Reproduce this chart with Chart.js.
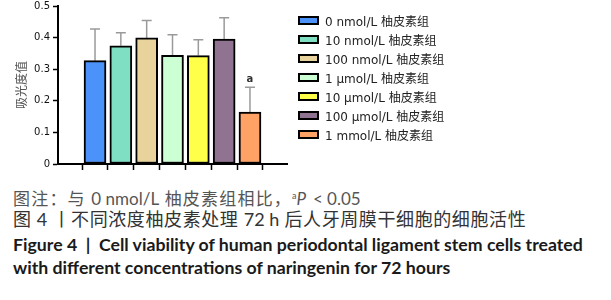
<!DOCTYPE html>
<html lang="zh">
<head>
<meta charset="UTF-8">
<title>柚皮素 细胞活性</title>
<style>
  body { margin: 0; background: #fff; }
  #wrap { position: relative; width: 611px; height: 300px; overflow: hidden; }
  #box { position: absolute; left: 0; top: -3px; width: 611px; height: 176px; }
  #legend { position: absolute; left: 298px; top: 11px; margin: 0; padding: 0; list-style: none;
            font: 12px "DejaVu Sans", "Noto Sans CJK SC", sans-serif; color: #222; }
  #legend li { height: 19px; display: flex; align-items: center; white-space: nowrap; }
  #legend .sw { width: 21px; height: 9px; box-sizing: border-box; border: 2px solid #000; margin-right: 6px; }
  .cap { position: absolute; left: 13px; white-space: nowrap; line-height: 20px; }
  .zh { font-family: Lato, "Noto Sans CJK SC", sans-serif; }
  .zh span { letter-spacing: 0; }
  .en { font-family: Lato, "Noto Sans", sans-serif; font-size: 17.7px; font-weight: bold; color: #1a1a1a; }
  #c1 { top: 186px; color: #555; font-size: 17px; letter-spacing: 1.2px; }
  #c2 { top: 209px; color: #333; font-size: 18px; letter-spacing: 0.6px; }
  #c3 { top: 235px; }
  #c4 { top: 258px; }
  sup { font-size: 9px; vertical-align: 6px; letter-spacing: 0; }
</style>
</head>
<body>
<div id="wrap">
  <div id="box"><canvas id="myChart"></canvas></div>
  <ul id="legend"></ul>
  <div class="cap zh" id="c1">图注：与 <span>0 nmol/L</span> 柚皮素组相比，<sup>a</sup><i>P</i> <span>&lt; 0.05</span></div>
  <div class="cap zh" id="c2">图 <span>4</span> 丨不同浓度柚皮素处理 <span>72 h</span> 后人牙周膜干细胞的细胞活性</div>
  <div class="cap en" id="c3">Figure 4 &nbsp;|&nbsp; Cell viability of human periodontal ligament stem cells treated</div>
  <div class="cap en" id="c4">with different concentrations of naringenin for 72 hours</div>
</div>
<script src="https://cdn.jsdelivr.net/npm/chart.js"></script>
<script>
// 组别
const groups = ["0 nmol/L 柚皮素组", "10 nmol/L 柚皮素组", "100 nmol/L 柚皮素组", "1 μmol/L 柚皮素组",
                "10 μmol/L 柚皮素组", "100 μmol/L 柚皮素组", "1 mmol/L 柚皮素组"];
// 吸光度值 (均值, 标准差)
const means = [0.327, 0.374, 0.399, 0.344, 0.343, 0.395, 0.164];
const sds = [0.100, 0.041, 0.055, 0.065, 0.050, 0.068, 0.079];
const marks = ["", "", "", "", "", "", "a"];
const colors = ["#4b93fa", "#7fdfc3", "#e8d39d", "#ccffd3", "#ffff4a", "#8f7390", "#ffa266"];
const yMax = 0.5;
const yStep = 0.1;

let v_datasets = [];
for (let i = 0; i < groups.length; i++) {
    v_datasets.push({
        label: groups[i],
        data: [{ x: i, y: means[i] }],
        backgroundColor: colors[i],
        borderColor: "#000",
        borderWidth: 2,
        borderSkipped: false,
        barThickness: 22,
        grouped: false
    });
}

// 误差线 + 显著性标记
const errorBars = {
    id: "errorBars",
    beforeDatasetsDraw(chart) {
        const ctx = chart.ctx;
        const y = chart.scales.y;
        ctx.save();
        ctx.strokeStyle = "#9a9a9a";
        ctx.lineWidth = 1.5;
        for (let i = 0; i < means.length; i++) {
            const bar = chart.getDatasetMeta(i).data[0];
            const top = y.getPixelForValue(means[i] + sds[i]);
            ctx.beginPath();
            ctx.moveTo(bar.x, bar.y);
            ctx.lineTo(bar.x, top);
            ctx.moveTo(bar.x - 5, top);
            ctx.lineTo(bar.x + 5, top);
            ctx.stroke();
        }
        ctx.restore();
    },
    afterDatasetsDraw(chart) {
        const ctx = chart.ctx;
        const y = chart.scales.y;
        ctx.save();
        ctx.fillStyle = "#333";
        ctx.font = "bold 10px 'DejaVu Sans'";
        ctx.textAlign = "center";
        ctx.textBaseline = "bottom";
        for (let i = 0; i < marks.length; i++) {
            if (!marks[i]) continue;
            const bar = chart.getDatasetMeta(i).data[0];
            ctx.fillText(marks[i], bar.x, y.getPixelForValue(means[i] + sds[i]) - 3);
        }
        ctx.restore();
    }
};

const ctx = document.getElementById("myChart");
const chart = new Chart(ctx, {
    type: "bar",
    data: { datasets: v_datasets },
    plugins: [errorBars],
    options: {
        responsive: true,
        maintainAspectRatio: false,
        animation: false,
        layout: { padding: { left: 0, top: 0, bottom: 0, right: 324 } },
        plugins: {
            tooltip: { enabled: false },
            legend: { display: false }
        },
        scales: {
            x: {
                type: "linear",
                min: -0.8,
                max: 6.8,
                afterFit: (s) => { s.height = 8; },
                ticks: { display: false, stepSize: 1, includeBounds: false },
                grid: { drawOnChartArea: false, tickLength: 6, tickColor: "#000", tickWidth: 1.5 },
                border: { color: "#000", width: 2 }
            },
            y: {
                min: 0,
                max: yMax,
                afterFit: (s) => { s.width = 58; },
                ticks: {
                    stepSize: yStep,
                    padding: 3,
                    color: "#111",
                    font: { family: "DejaVu Sans", size: 10 }
                },
                grid: { drawOnChartArea: false, tickLength: 5, tickColor: "#000", tickWidth: 1.5 },
                border: { color: "#000", width: 2 },
                title: {
                    display: true,
                    text: "吸光度值",
                    color: "#555",
                    padding: { top: 14, bottom: 0 },
                    font: { family: "Noto Sans CJK SC", size: 12 }
                }
            }
        }
    }
});

// 图例: 用图表自己的 legend items 生成 html 列表
const items = Chart.defaults.plugins.legend.labels.generateLabels(chart);
const ul = document.getElementById("legend");
items.forEach((it) => {
    const li = document.createElement("li");
    const sw = document.createElement("span");
    sw.className = "sw";
    sw.style.background = it.fillStyle;
    sw.style.borderColor = it.strokeStyle;
    li.appendChild(sw);
    li.appendChild(document.createTextNode(it.text));
    ul.appendChild(li);
});
</script>
</body>
</html>
